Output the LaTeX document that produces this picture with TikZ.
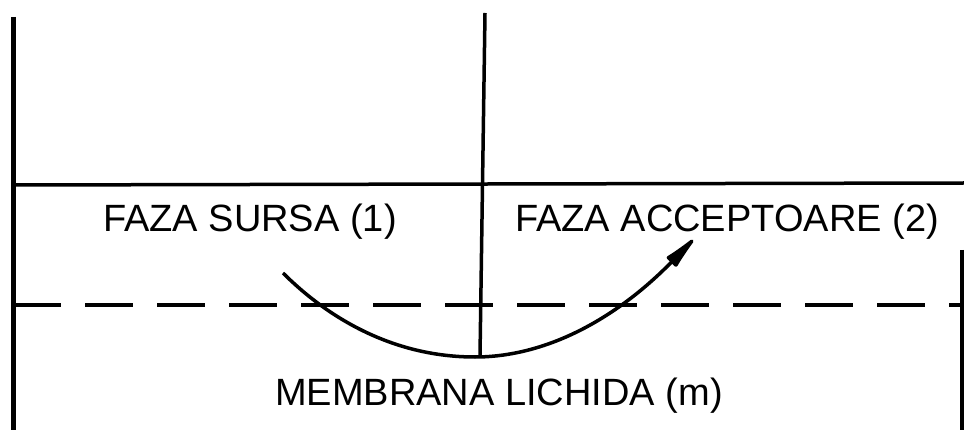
\documentclass[tikz,border=0pt]{standalone}
\usepackage{fontspec}
\setmainfont{Liberation Sans}
\usetikzlibrary{arrows.meta}

\begin{document}
\begin{tikzpicture}[x=1pt, y=-1pt,
    wall/.style={line width=5pt},
    rule/.style={line width=3.5pt},
    dashrule/.style={line width=3.5pt, dash pattern=on 48pt off 24pt},
    path/.style={line width=3.5pt, -{Latex[length=46pt, width=15pt, round]}},
    label/.style={inner sep=0pt, anchor=base west, font=\fontsize{38}{40}\selectfont}]

  \useasboundingbox (0,0) rectangle (964,430);

  %% frame
  \coordinate (lt) at (13,17);
  \coordinate (lb) at (13,430);
  \coordinate (mt) at (485,13);
  \coordinate (mb) at (480,356);
  \coordinate (rt) at (962,250);
  \coordinate (rb) at (962,430);
  \coordinate (sl) at (13,185);
  \coordinate (sr) at (964,183);
  \coordinate (dl) at (13,305);
  \coordinate (dr) at (964,305);

  \draw[wall] (lt) -- (lb);
  \draw[rule] (mt) -- (mb);
  \draw[rule] (rt) -- (rb);
  \draw[rule] (sl) -- (sr);           %% interfata 1|2
  \draw[dashrule] (dl) -- (dr);       %% limita membranei

  %% texte
  \node[label] (sursa) at (103,232) {FAZA SURSA (1)};
  \node[label] (accept) at (515,232) {FAZA ACCEPTOARE (2)};
  \node[label] (membr) at (275,405) {MEMBRANA LICHIDA (m)};

  %% drumul prin membrana
  \coordinate (from) at (283,273);
  \coordinate (low) at (475,357);
  \coordinate (to) at (693,240);
  \draw[path] (from) .. controls (325,315) and (390,357) .. (low)
                     .. controls (545,357) and (615,320) .. (to);
\end{tikzpicture}
\end{document}
